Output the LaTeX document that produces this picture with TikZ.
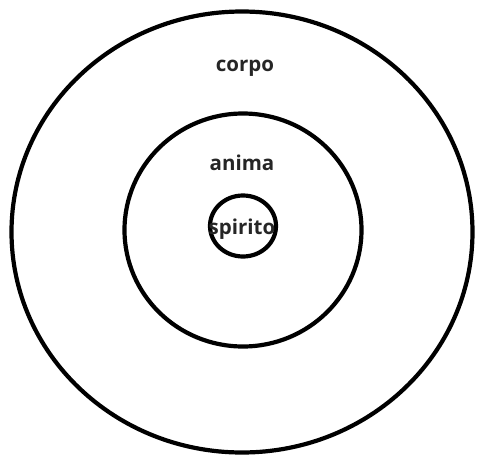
\documentclass[tikz,border=0pt]{standalone}
\usepackage{fontspec}
\setmainfont{Open Sans}
\usetikzlibrary{positioning, shapes.geometric}
\tikzset{
  ring/.style={draw=black, ellipse, line width=4.2pt, inner sep=0pt},
  word/.style={font=\fontsize{20.5}{24}\selectfont\bfseries, text=black!85,
               inner sep=0pt},
}

\begin{document}
\begin{tikzpicture}[x=1pt, y=-1pt]
  \useasboundingbox (0,0) rectangle (483,456);
  % ---- the three rings ----
  \node[ring, minimum width=461pt, minimum height=441pt] (corpo)   at (242,232) {};
  \node[ring, minimum width=237pt, minimum height=233pt] (anima)   at (243,230) {};
  \node[ring, minimum width=66pt,  minimum height=61pt]  (spirito) at (243,226) {};

  % ---- labels ----
  \node[word] (corpoL)   at (245,68)  {corpo};
  \node[word] (animaL)   at (242,163) {anima};
  \node[word] (spiritoL) at (242,229) {spirito};
\end{tikzpicture}
\end{document}
